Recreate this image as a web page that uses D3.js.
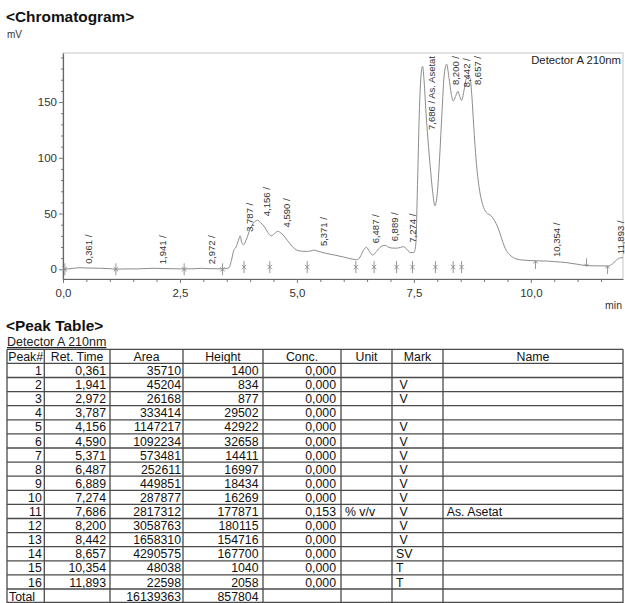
<!DOCTYPE html>
<html>
<head>
<meta charset="utf-8">
<script src="https://cdn.jsdelivr.net/npm/d3@7"></script>
<style>
  body { margin: 0; background: #fff; }
  text { font-family: "Liberation Sans", Arial, sans-serif; }
</style>
</head>
<body>
<div id="chart"></div>
<script>
// detector trace: [min, mV]
const trace = [
  [0, 0], [0.1, 0.3], [0.25, 1.0], [0.361, 1.4], [0.5, 1.2], [0.8, 0.9], [1.0, 0.6], [1.13, 0.1],
  [1.3, 0.3], [1.6, 0.4], [1.941, 0.9], [2.2, 0.6], [2.59, 0.3], [2.8, 0.5], [2.972, 0.9], [3.1, 0.6],
  [3.4, 0.4], [3.5, 0.8], [3.55, 1.5], [3.6, 8], [3.65, 17], [3.7, 20], [3.75, 26], [3.787, 30],
  [3.82, 24], [3.86, 22], [3.92, 27], [4.0, 36], [4.08, 42], [4.156, 44], [4.22, 42], [4.3, 38.5],
  [4.38, 33], [4.45, 30], [4.52, 32], [4.59, 34], [4.66, 32.5], [4.75, 28.5], [4.85, 23], [4.95, 18.5],
  [5.05, 16.5], [5.2, 16], [5.3, 16.5], [5.371, 17.2], [5.45, 16.2], [5.6, 14.5], [5.8, 12.8], [6.0, 11],
  [6.2, 9], [6.28, 8.6], [6.35, 11], [6.42, 17], [6.487, 19.7], [6.55, 16], [6.62, 12.8], [6.7, 16],
  [6.8, 20.5], [6.889, 21.5], [6.95, 20], [7.05, 19], [7.15, 19], [7.274, 20.3], [7.35, 18], [7.42, 15],
  [7.5, 15], [7.54, 22], [7.58, 80], [7.62, 145], [7.66, 177], [7.686, 182], [7.72, 168], [7.76, 140],
  [7.8, 117], [7.85, 92], [7.9, 70], [7.95, 57], [8.0, 68], [8.05, 100], [8.1, 140], [8.15, 175],
  [8.2, 184], [8.25, 172], [8.3, 157], [8.34, 151], [8.39, 155], [8.442, 159.6], [8.48, 155], [8.52, 151.5],
  [8.57, 160], [8.62, 171], [8.657, 173], [8.7, 172], [8.74, 155], [8.78, 128], [8.83, 98], [8.9, 72],
  [8.97, 58], [9.05, 51], [9.15, 48], [9.22, 44], [9.3, 37], [9.38, 27], [9.45, 19], [9.55, 13],
  [9.65, 10], [9.8, 8.4], [10.0, 7.8], [10.19, 7.5], [10.354, 7.4], [10.5, 6.9], [10.76, 6], [11.0, 4.5],
  [11.19, 3.3], [11.4, 3.1], [11.65, 3], [11.75, 5], [11.85, 9], [11.893, 10], [11.97, 10.5]
];

// integration marks under the trace
const markTime = [0.04, 1.13, 2.59, 3.41, 3.87, 4.42, 5.22, 6.26, 6.65, 7.13, 7.47, 7.96, 8.34, 8.52, 10.1, 11.19, 11.64];
const markType = ['x', 'x', 'x', 'x', 'x', 'x', 'x', 'x', 'x', 'x', 'x', 'x', 'x', 'x', 'up', 'down', 'up'];
const markLevel = [0, 0, 0, 0, 2, 2, 2, 2, 2, 2, 2, 2, 2, 2, 3.9, 6.3, -0.6];

// peak table
const peakNo = [1, 2, 3, 4, 5, 6, 7, 8, 9, 10, 11, 12, 13, 14, 15, 16];
const retTime = [0.361, 1.941, 2.972, 3.787, 4.156, 4.590, 5.371, 6.487, 6.889, 7.274, 7.686, 8.200, 8.442, 8.657, 10.354, 11.893];
const area = [35710, 45204, 26168, 333414, 1147217, 1092234, 573481, 252611, 449851, 287877, 2817312, 3058763, 1658310, 4290575, 48038, 22598];
const heights = [1400, 834, 877, 29502, 42922, 32658, 14411, 16997, 18434, 16269, 177871, 180115, 154716, 167700, 1040, 2058];
const conc = [0, 0, 0, 0, 0, 0, 0, 0, 0, 0, 0.153, 0, 0, 0, 0, 0];
const unit = ['', '', '', '', '', '', '', '', '', '', '% v/v', '', '', '', '', ''];
const mark = ['', ' V', ' V', '', ' V', ' V', ' V', ' V', ' V', ' V', ' V', ' V', ' V', 'SV', 'T', 'T'];
const peakName = ['', '', '', '', '', '', '', '', '', '', 'As. Asetat', '', '', '', '', ''];

const xMajor = [0, 2.5, 5, 7.5, 10];
const yMajor = [0, 50, 100, 150];

const W = 625, H = 603;
const svg = d3.select('#chart').append('svg').attr('width', W).attr('height', H);

const loc = d3.formatLocale({decimal: ',', thousands: '.', grouping: [3], currency: ['', '']});
const f1 = loc.format('.1f');
const f3 = loc.format('.3f');

// ---- chromatogram ----
const x = d3.scaleLinear().domain([0, 11.97]).range([63, 623]);
const y = d3.scaleLinear().domain([-8.7, 194]).range([279, 53]);

svg.append('text').attr('x', 6).attr('y', 22)
  .style('font-size', '15.4px').style('font-weight', 'bold').attr('fill', '#111')
  .text('<Chromatogram>');
svg.append('text').attr('x', 7).attr('y', 38)
  .style('font-size', '10px').attr('fill', '#333').text('mV');

// frame
svg.append('rect').attr('x', 63).attr('y', 53).attr('width', 560).attr('height', 226)
  .attr('fill', 'none').attr('stroke', '#cfcfcf').attr('stroke-width', 1.2);

svg.append('text').attr('x', 621).attr('y', 64).attr('text-anchor', 'end')
  .style('font-size', '11.3px').attr('fill', '#222').text('Detector A 210nm');

// axes
const xMinor = d3.range(0, 12, 0.5).filter(d => !xMajor.includes(d));
const yMinor = d3.range(0, 191, 10).filter(d => !yMajor.includes(d));

const gx = svg.append('g').attr('transform', 'translate(0,279)');
gx.call(d3.axisBottom(x).tickValues(xMinor).tickSize(3).tickFormat(''));
gx.call(g => g.select('.domain').remove());
svg.append('g').attr('transform', 'translate(0,279)')
  .call(d3.axisBottom(x).tickValues(xMajor).tickSize(4).tickPadding(6).tickFormat(f1).tickSizeOuter(0));

const gy = svg.append('g').attr('transform', 'translate(63,0)');
gy.call(d3.axisLeft(y).tickValues(yMinor).tickSize(2).tickFormat(''));
gy.call(g => g.select('.domain').remove());
svg.append('g').attr('transform', 'translate(63,0)')
  .call(d3.axisLeft(y).tickValues(yMajor).tickSize(4).tickPadding(2).tickSizeOuter(0));

svg.selectAll('.tick line').attr('stroke', '#777');
svg.selectAll('.domain').attr('stroke', '#666').attr('stroke-width', 1.2);
svg.selectAll('.tick text').style('font-size', '11.5px').attr('fill', '#333')
  .style('font-family', '"Liberation Sans", Arial, sans-serif');

svg.append('text').attr('x', 622).attr('y', 308.5).attr('text-anchor', 'end')
  .style('font-size', '10.5px').attr('fill', '#333').text('min');

// trace
const line = d3.line().x(d => x(d[0])).y(d => y(d[1])).curve(d3.curveMonotoneX);
svg.append('path').datum(trace).attr('d', line)
  .attr('fill', 'none').attr('stroke', '#8c8c8c').attr('stroke-width', 1);

// integration marks
const marks = svg.append('g').attr('stroke', '#8a8a8a').attr('stroke-width', 0.9).attr('fill', 'none');
markTime.forEach((t, i) => {
  const g = marks.append('g').attr('transform', `translate(${x(t)},${y(markLevel[i])})`);
  if (markType[i] === 'x') {
    g.append('path').attr('d', 'M0,-6V6M-2.2,-2.2L2.2,2.2M-2.2,2.2L2.2,-2.2');
  } else if (markType[i] === 'up') {
    g.append('path').attr('d', 'M0,-4V4M-2,-1.5L0,-4L2,-1.5');
  } else {
    g.append('path').attr('d', 'M0,-4V4M-2,1.5L0,4L2,1.5');
  }
});

// peak labels
const traceAt = t => {
  const i = d3.bisector(d => d[0]).left(trace, t);
  if (i <= 0) return trace[0][1];
  if (i >= trace.length) return trace[trace.length - 1][1];
  const a = trace[i - 1], b = trace[i];
  return a[1] + (b[1] - a[1]) * (t - a[0]) / (b[0] - a[0]);
};
const labels = svg.append('g');
retTime.forEach((t, i) => {
  const txt = f3(t) + ' /' + (peakName[i] ? ' ' + peakName[i] : '');
  const lx = Math.min(x(t) + 12.5, 623.5);
  const el = labels.append('text').style('font-size', '9.5px').attr('fill', '#333').text(txt);
  const len = el.node().getComputedTextLength();
  let start = y(traceAt(t)) - 4;
  if (start - len < 56) start = 56 + len;
  el.attr('transform', `translate(${lx},${start}) rotate(-90)`);
});

// ---- peak table ----
svg.append('text').attr('x', 6).attr('y', 331)
  .style('font-size', '15.4px').style('font-weight', 'bold').attr('fill', '#111')
  .text('<Peak Table>');
svg.append('text').attr('x', 7).attr('y', 346)
  .style('font-size', '12.5px').style('text-decoration', 'underline').attr('fill', '#222')
  .text('Detector A 210nm');

const colEdge = [7, 44.3, 110, 183, 263, 341, 392, 443, 623];
const header = ['Peak#', 'Ret. Time', 'Area', 'Height', 'Conc.', 'Unit', 'Mark', 'Name'];
const align = ['end', 'end', 'end', 'end', 'end', 'start', 'start', 'start'];
const pad = [2.5, 4, 2, 4.5, 5, 4, 4, 3.7];
const tTop = 349.3, rowH = 14.1;

const rows = peakNo.map((n, i) => [
  String(n), f3(retTime[i]), String(area[i]), String(heights[i]), f3(conc[i]), unit[i], mark[i], peakName[i]
]);
rows.push(['Total', '', String(d3.sum(area)), String(d3.sum(heights)), '', '', '', '']);

const tbl = svg.append('g').style('font-size', '12.3px').attr('fill', '#111');

header.forEach((h, c) => {
  tbl.append('text').attr('x', (colEdge[c] + colEdge[c + 1]) / 2).attr('y', tTop + 11.6)
    .attr('text-anchor', 'middle').text(h);
});
rows.forEach((r, ri) => {
  const top = tTop + rowH * (ri + 1);
  r.forEach((v, c) => {
    if (!v) return;
    let anchor = align[c], px;
    if (ri === rows.length - 1 && c === 0) anchor = 'start';
    if (anchor === 'end') px = colEdge[c + 1] - pad[c];
    else px = colEdge[c] + (c === 0 ? 2 : pad[c]);
    tbl.append('text').attr('x', px).attr('y', top + 11.6)
      .attr('text-anchor', anchor).style('white-space', 'pre').text(v);
  });
});

// grid
const grid = svg.append('g').attr('stroke', '#4a4a4a').attr('stroke-width', 1.3);
d3.range(rows.length + 2).forEach(k => {
  const yy = Math.min(tTop + rowH * k, 602.3);
  grid.append('line').attr('x1', colEdge[0]).attr('x2', colEdge[colEdge.length - 1])
    .attr('y1', yy).attr('y2', yy);
});
colEdge.forEach(cx => {
  grid.append('line').attr('x1', cx).attr('x2', cx).attr('y1', tTop).attr('y2', 603);
});
</script>
</body>
</html>
